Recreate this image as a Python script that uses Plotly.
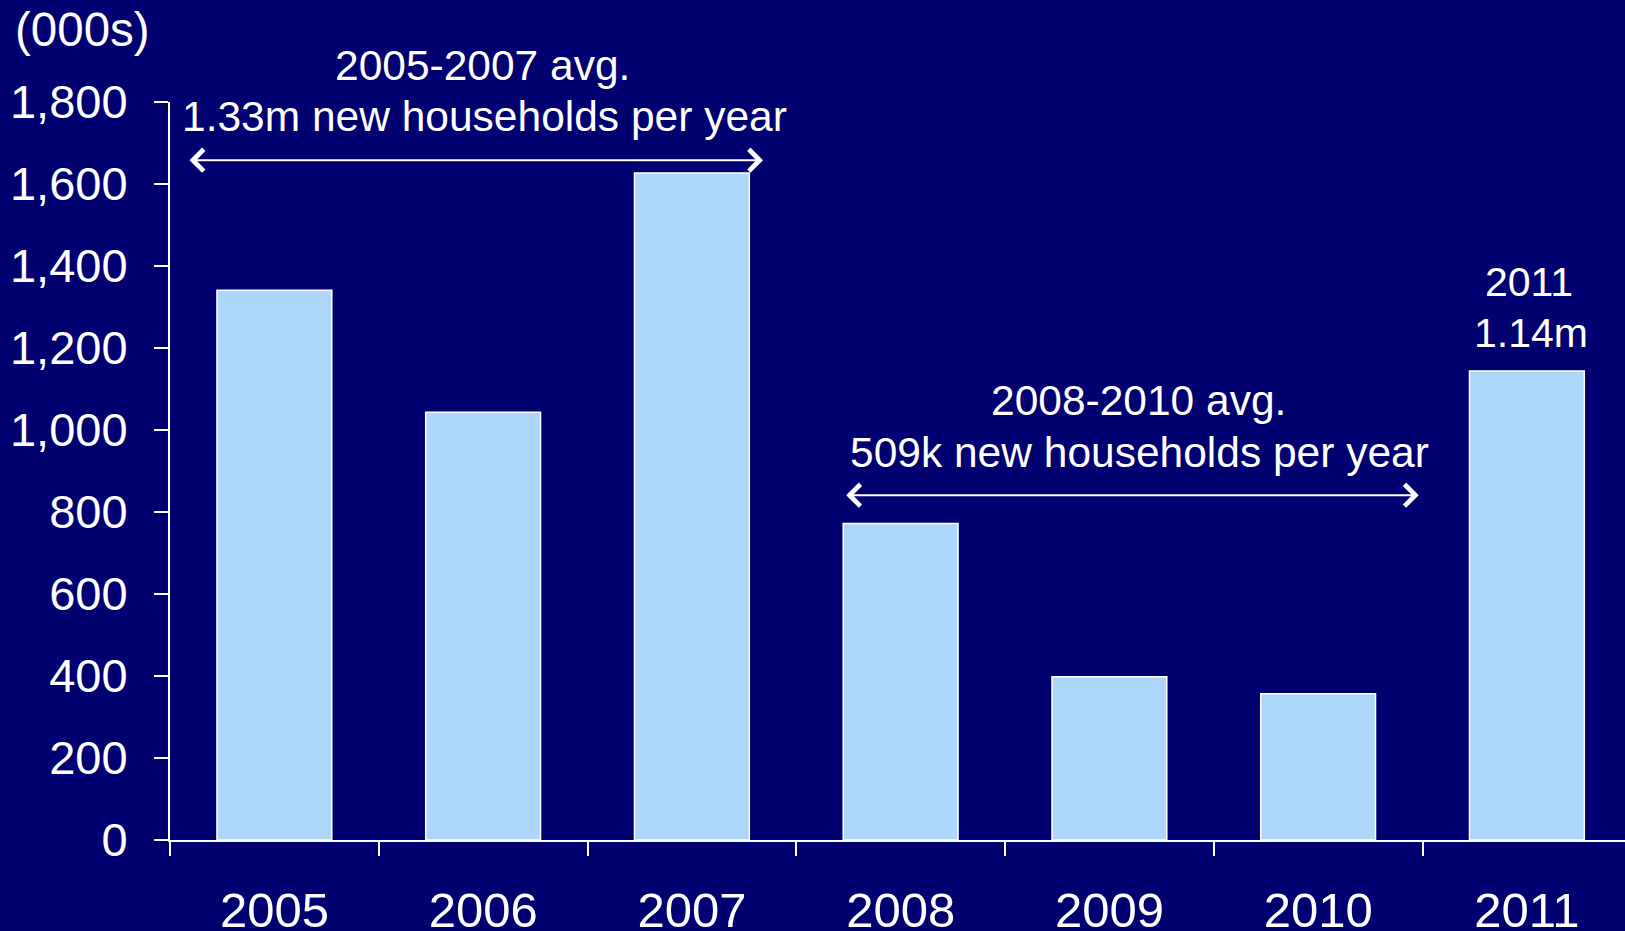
import plotly.graph_objects as go

years = ["2005", "2006", "2007", "2008", "2009", "2010", "2011"]
households = [1341, 1043, 1627, 772, 398, 357, 1144]
y_ticks = [0, 200, 400, 600, 800, 1000, 1200, 1400, 1600, 1800]
y_tick_labels = ["0", "200", "400", "600", "800", "1,000", "1,200", "1,400", "1,600", "1,800"]

W, H = 1625, 931
L, R, T, B = 170, 0, 102, 91
BG = "#000070"
BAR = "#ACD6FC"
FONT = "Liberation Sans, Arial, sans-serif"

def px(x):
    return (x - L) / (W - L - R)

def py(y):
    return (H - B - y) / (H - T - B)

fig = go.Figure()
fig.add_trace(go.Bar(
    x=years, y=households, width=0.55,
    marker=dict(color=BAR, line=dict(color="white", width=1.5)),
    hoverinfo="skip",
))

ann = []
def text(x, y, s, size=42.5):
    ann.append(dict(xref="paper", yref="paper", x=px(x), y=py(y), text=s,
                    showarrow=False, xanchor="center", yanchor="middle",
                    font=dict(family=FONT, size=size, color="white")))

text(82, 30, "(000s)", 47.5)
text(482, 65, "2005-2007 avg.")
text(484, 116, "1.33m new households per year")
text(1138, 400, "2008-2010 avg.")
text(1139, 452, "509k new households per year")
text(1529, 282, "2011", 41)
text(1531, 333, "1.14m", 41)

# double-headed arrows (x in category index units, y in data units)
for (x0, x1, yv) in [(-0.414, 2.341, 1658), (2.732, 5.482, 841)]:
    ann.append(dict(x=x1, y=yv, ax=x0, ay=yv, xref="x", yref="y", axref="x", ayref="y",
                    text="", showarrow=True, arrowhead=4, startarrowhead=4,
                    arrowside="end+start", arrowsize=2.1, startarrowsize=2.1,
                    arrowwidth=2, arrowcolor="white", standoff=0, startstandoff=0))

fig.update_layout(
    width=W, height=H,
    margin=dict(l=L, r=R, t=T, b=B, pad=0, autoexpand=False),
    paper_bgcolor=BG, plot_bgcolor=BG,
    showlegend=False,
    annotations=ann,
    xaxis=dict(
        type="category", range=[-0.5, 6.47], automargin=False,
        showline=True, linecolor="white", linewidth=2,
        ticks="outside", tickson="boundaries", ticklen=14, tickwidth=2, tickcolor="white",
        showgrid=False, zeroline=False, ticklabelstandoff=26,
        tickfont=dict(family=FONT, size=49, color="white"),
    ),
    yaxis=dict(
        range=[0, 1800], tickmode="array", tickvals=y_ticks, ticktext=y_tick_labels,
        automargin=False,
        showline=True, linecolor="white", linewidth=2,
        ticks="outside", ticklen=14, tickwidth=2, tickcolor="white",
        showgrid=False, zeroline=False, ticklabelstandoff=17,
        tickfont=dict(family=FONT, size=47, color="white"),
    ),
)

fig.write_html("out.html", config={"displayModeBar": False})
with open("out.html", encoding="utf-8") as f:
    html = f.read()
html = html.replace("<body>", '<body style="margin:0;padding:0;overflow:hidden;background:%s">' % BG, 1)
with open("out.html", "w", encoding="utf-8") as f:
    f.write(html)
